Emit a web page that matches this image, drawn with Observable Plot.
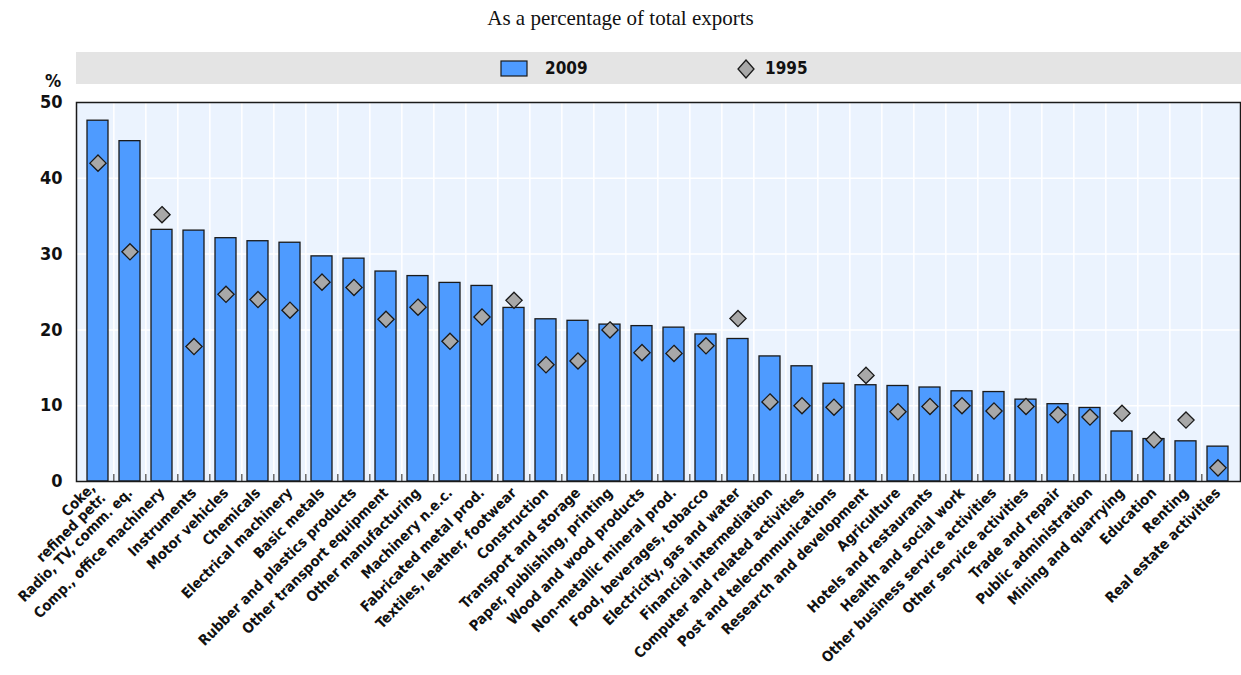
<!DOCTYPE html>
<html>
<head>
<meta charset="utf-8">
<script src="https://cdn.jsdelivr.net/npm/d3@7"></script>
<script src="https://cdn.jsdelivr.net/npm/@observablehq/plot@0.6"></script>
<style>
  body { margin: 0; background: #fff; }
  #wrap { position: relative; width: 1241px; height: 675px; overflow: hidden;
    font-family: "Liberation Sans Narrow", "DejaVu Sans Condensed", "Arial Narrow", sans-serif; font-stretch: condensed; }
  #title { position: absolute; top: 6px; left: 0; width: 1241px; text-align: center;
    font-family: "Liberation Serif", "Times New Roman", serif; font-size: 21px; color: #111; font-stretch: normal; }
  #legend { position: absolute; top: 52px; left: 76px; width: 1165px; height: 32px; background: #e4e4e4; }
  .lg { position: absolute; top: 0; height: 32px; line-height: 32px; font-weight: bold; font-size: 17px; color: #111; }
  #pct { position: absolute; left: 45px; top: 70px; font-weight: bold; font-size: 18px; color: #111; }
  #chart { position: absolute; top: 86px; left: 0; }
</style>
</head>
<body>
<div id="wrap">
  <div id="title">As a percentage of total exports</div>
  <div id="legend">
    <svg style="position:absolute;left:424px;top:8px" width="30" height="18"><rect x="1" y="1" width="26" height="15" fill="#4e9bff" stroke="#1a1a1a" stroke-width="1.2"/></svg>
    <div class="lg" style="left:469px">2009</div>
    <svg style="position:absolute;left:659px;top:6px" width="22" height="22"><path d="M11,2 L19,11 L11,20 L3,11 Z" fill="#a8a8a8" stroke="#1a1a1a" stroke-width="1.3"/></svg>
    <div class="lg" style="left:689px">1995</div>
  </div>
  <div id="pct">%</div>
  <div id="chart"></div>
</div>
<script>
const categories = [
  "Coke,\nrefined petr.", "Radio, TV, comm. eq.", "Comp., office machinery", "Instruments",
  "Motor vehicles", "Chemicals", "Electrical machinery", "Basic metals",
  "Rubber and plastics products", "Other transport equipment", "Other manufacturing", "Machinery n.e.c.",
  "Fabricated metal prod.", "Textiles, leather, footwear", "Construction", "Transport and storage",
  "Paper, publishing, printing", "Wood and wood products", "Non-metallic mineral prod.", "Food, beverages, tobacco",
  "Electricity, gas and water", "Financial intermediation", "Computer and related activities", "Post and telecommunications",
  "Research and development", "Agriculture", "Hotels and restaurants", "Health and social work",
  "Other business service activities", "Other service activities", "Trade and repair", "Public administration",
  "Mining and quarrying", "Education", "Renting", "Real estate activities"
];
const values2009 = [
  47.6, 44.9, 33.2, 33.1, 32.1, 31.7, 31.5, 29.7,
  29.4, 27.7, 27.1, 26.2, 25.8, 22.9, 21.4, 21.2,
  20.7, 20.5, 20.3, 19.4, 18.8, 16.5, 15.2, 12.9,
  12.7, 12.6, 12.4, 11.9, 11.8, 10.8, 10.2, 9.7,
  6.6, 5.6, 5.3, 4.6
];
const values1995 = [
  42.0, 30.3, 35.2, 17.8, 24.7, 24.0, 22.6, 26.3,
  25.6, 21.4, 23.0, 18.5, 21.7, 23.9, 15.4, 15.9,
  20.0, 17.0, 16.9, 17.9, 21.5, 10.5, 10.0, 9.8,
  14.0, 9.2, 9.9, 10.0, 9.3, 9.9, 8.8, 8.5,
  9.0, 5.5, 8.1, 1.8
];
const yTicks = [0, 10, 20, 30, 40, 50];

const data = categories.map((c, i) => ({cat: c, v2009: values2009[i], v1995: values1995[i]}));

const W = 1241, mL = 76, mR = 1, mT = 16, mB = 194, H = 589;
const step = (W - mL - mR) / categories.length;
const plotH = H - mT - mB;
const font = '"Liberation Sans Narrow", "DejaVu Sans Condensed", "Arial Narrow", sans-serif';

const chart = Plot.plot({
  width: W, height: H,
  marginLeft: mL, marginRight: mR, marginTop: mT, marginBottom: mB,
  style: {fontFamily: font, color: "#111", background: "transparent"},
  x: {domain: categories, paddingInner: 0.33, paddingOuter: 0.165, label: null},
  y: {domain: [0, 50], label: null},
  marks: [
    Plot.frame({fill: "#ebf3fe", stroke: null}),
    Plot.ruleY(yTicks.slice(1, -1), {stroke: "#fff", strokeWidth: 1.5}),
    Plot.ruleX(categories.slice(1), {dx: -step / 2, stroke: "#fff", strokeWidth: 1.5}),
    Plot.ruleX(categories.slice(1), {dx: -step / 2, y1: 50, y2: 0, insetTop: plotH - 7, stroke: "#444", strokeWidth: 1.2}),
    Plot.ruleY(yTicks.slice(1, -1), {x1: categories[0], insetRight: W - mL - mR - 6, dx: -step / 2, stroke: "#444", strokeWidth: 1.2}),
    Plot.barY(data, {x: "cat", y: "v2009", fill: "#4e9bff", stroke: "#1a1a1a", strokeWidth: 1.3}),
    Plot.dot(data, {x: "cat", y: "v1995", symbol: "diamond2", r: 7.3, fill: "#a8a8a8", stroke: "#1a1a1a", strokeWidth: 1.3}),
    Plot.frame({stroke: "#1a1a1a", strokeWidth: 1.5}),
    Plot.axisY({ticks: yTicks, tickSize: 0, tickPadding: 14, fontSize: 18, fontWeight: "bold", label: null}),
    Plot.axisX({tickRotate: -45, tickSize: 0, tickPadding: 9, fontSize: 14.5, fontWeight: "bold", label: null})
  ]
});
document.getElementById("chart").appendChild(chart);
</script>
</body>
</html>
